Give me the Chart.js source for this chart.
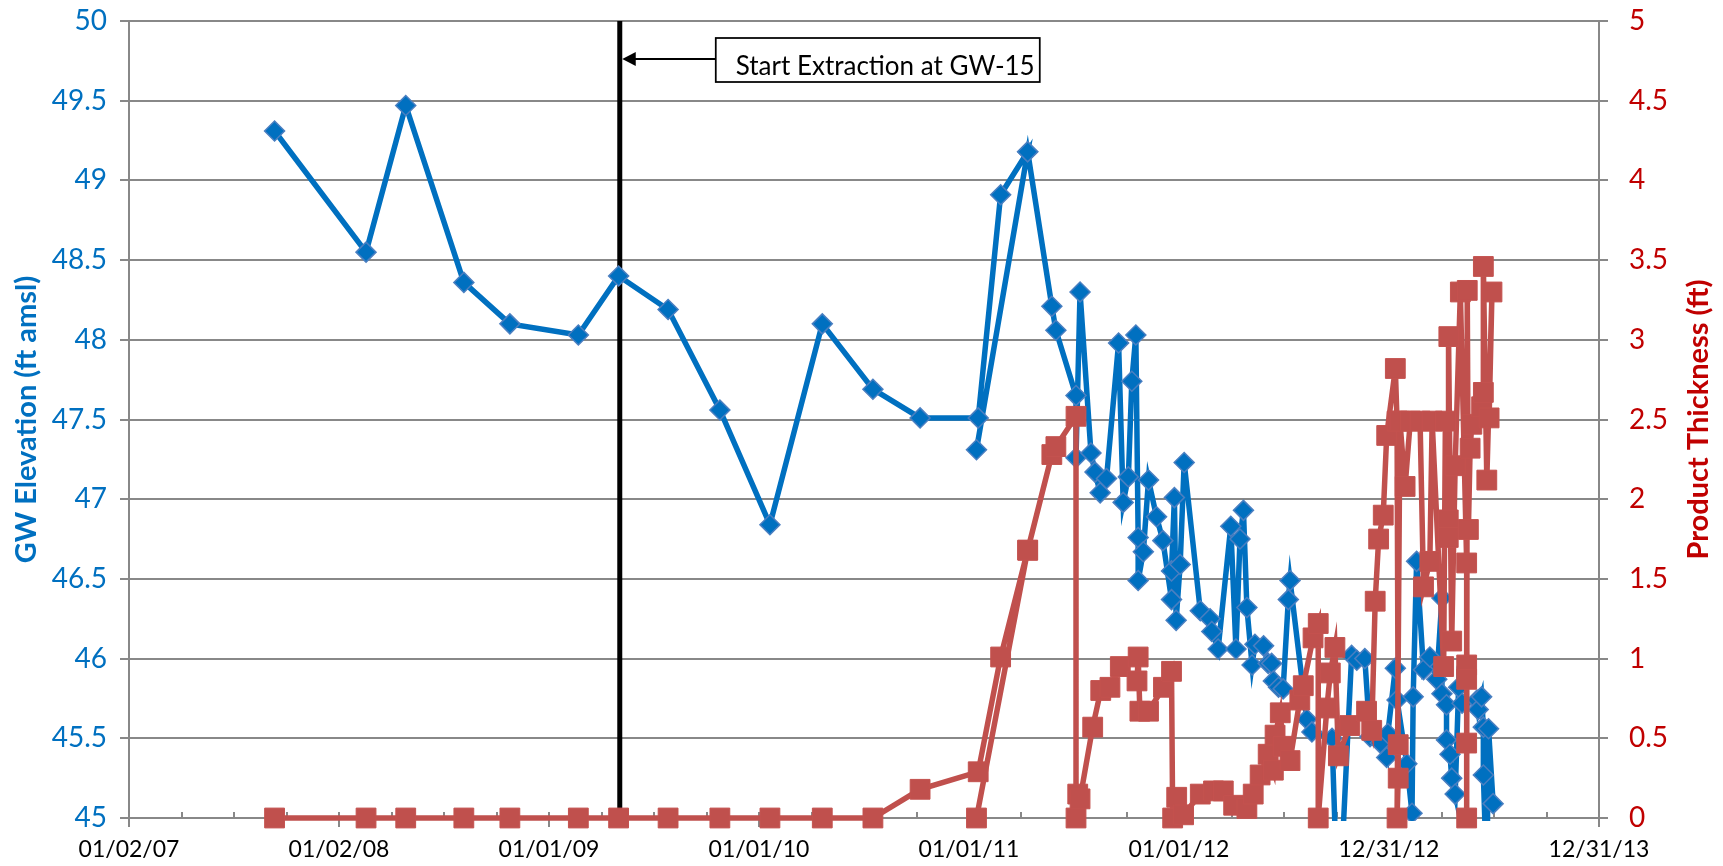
<!DOCTYPE html>
<html>
<head>
<meta charset="utf-8">
<script src="https://cdn.jsdelivr.net/npm/chart.js@4.4.1/dist/chart.umd.min.js"></script>
<style>
  html, body { margin: 0; padding: 0; background: #ffffff; }
  #wrap { width: 1723px; height: 866px; position: relative; }
</style>
</head>
<body>
<div id="wrap"><canvas id="c" width="1723" height="866"></canvas></div>
<script>
// ---- Data (Excel serial dates) ----
const tickDates = [39084, 39449, 39814, 40179, 40544, 40909, 41274, 41639];
const tickLabels = ['01/02/07', '01/02/08', '01/01/09', '01/01/10', '01/01/11', '01/01/12', '12/31/12', '12/31/13'];
const leftTicks = [45, 45.5, 46, 46.5, 47, 47.5, 48, 48.5, 49, 49.5, 50];
const rightTicks = [0, 0.5, 1, 1.5, 2, 2.5, 3, 3.5, 4, 4.5, 5];

const blueDates = [39337,39496,39565,39666,39746,39865,39935,40021,40111,40198,40289,40377,40459,40560,40599,40646,40557,40646,40688,40695,40730,40730,40737,40756,40763,40772,40783,40804,40812,40821,40827,40834,40838,40838,40847,40856,40870,40881,40896,40896,40901,40904,40911,40918,40946,40963,40966,40977,40999,41008,41015,41021,41027,41036,41041,41056,41064,41070,41073,41082,41090,41099,41102,41131,41140,41175,41186,41209,41218,41232,41241,41259,41270,41272,41285,41288,41305,41314,41316,41322,41334,41345,41357,41366,41366,41374,41374,41380,41383,41389,41395,41401,41427,41429,41435,41438,41438,41444,41447,41455];
const blueValues = [49.31,48.55,49.47,48.36,48.10,48.03,48.40,48.19,47.56,46.84,48.10,47.69,47.51,47.51,48.91,49.18,47.31,49.18,48.21,48.06,47.65,47.26,48.30,47.29,47.17,47.04,47.13,47.98,46.98,47.14,47.74,48.03,46.76,46.49,46.67,47.12,46.89,46.74,46.37,46.55,47.01,46.24,46.59,47.23,46.30,46.25,46.17,46.06,46.83,46.06,46.75,46.93,46.32,45.96,46.09,46.08,45.97,45.97,45.86,45.82,45.81,46.37,46.49,45.62,45.54,45.50,44.30,46.02,45.99,46.00,45.51,45.47,45.38,45.53,45.94,45.74,45.34,45.03,45.76,46.61,45.93,46.01,45.87,46.38,45.78,45.71,45.49,45.40,45.25,45.15,45.82,45.72,45.74,45.68,45.76,45.57,45.27,44.60,45.56,45.09];

const redDates = [39337,39496,39565,39666,39746,39865,39935,40021,40111,40198,40289,40377,40459,40560,40599,40646,40557,40646,40688,40695,40730,40730,40733,40737,40759,40773,40789,40807,40836,40838,40841,40856,40882,40896,40898,40905,40917,40946,40969,40986,41004,41027,41038,41050,41064,41073,41076,41085,41090,41102,41119,41125,41142,41151,41151,41166,41172,41180,41186,41206,41235,41244,41250,41256,41264,41270,41285,41288,41290,41290,41288,41293,41302,41311,41328,41334,41345,41349,41369,41372,41377,41377,41378,41383,41389,41398,41409,41409,41409,41409,41409,41410,41412,41415,41418,41435,41438,41438,41444,41453,41448];
const redValues = [0,0,0,0,0,0,0,0,0,0,0,0,0.18,0.29,1.01,1.68,0,1.68,2.28,2.33,2.52,0,0.15,0.12,0.57,0.80,0.82,0.95,0.86,1.01,0.67,0.67,0.82,0.92,0,0.13,0.02,0.15,0.17,0.17,0.08,0.06,0.15,0.27,0.40,0.30,0.52,0.66,0.45,0.36,0.74,0.83,1.13,1.22,0,0.69,0.91,1.07,0.39,0.58,0.67,0.55,1.36,1.75,1.90,2.40,2.82,2.49,0.46,0.25,0,2.49,2.08,2.49,2.49,1.45,1.61,2.49,0.95,2.49,1.87,1.76,3.02,1.11,2.21,3.30,1.60,0.96,0.87,0.47,0,3.31,1.81,2.32,2.47,2.58,2.67,3.46,2.12,3.30,2.51];

const extractionDate = 39937;
const annotationText = 'Start Extraction at GW-15';
const leftTitle = 'GW Elevation (ft amsl)';
const rightTitle = 'Product Thickness (ft)';

// ---- Styles ----
const BLUE = '#0070C0';
const RED = '#C0504D';
const DARKRED = '#C00000';
const GRID = '#888888';
const FONT = 'Lato, "Open Sans", "DejaVu Sans", sans-serif';

function fixBox(size, isHorizontal) {
  return s => {
    if (isHorizontal) s.height = size; else s.width = size;
    s.paddingTop = 0; s.paddingBottom = 0; s.paddingLeft = 0; s.paddingRight = 0;
  };
}

const decorations = {
  id: 'decorations',
  beforeDatasetsDraw(chart) {
    const { ctx, chartArea: a, scales: { x } } = chart;
    ctx.save();
    ctx.strokeStyle = GRID;
    ctx.lineWidth = 2;
    ctx.beginPath();
    for (let i = 0; i < tickDates.length; i++) {
      const px = Math.round(x.getPixelForValue(tickDates[i]));
      ctx.moveTo(px, a.bottom - 6); ctx.lineTo(px, a.bottom);
      if (i < tickDates.length - 1) {
        for (let k = 1; k < 4; k++) {
          const v = tickDates[i] + (tickDates[i + 1] - tickDates[i]) * k / 4;
          const mp = Math.round(x.getPixelForValue(v));
          ctx.moveTo(mp, a.bottom - 6); ctx.lineTo(mp, a.bottom);
        }
      }
    }
    ctx.stroke();
    // extraction start line
    const lx = x.getPixelForValue(extractionDate);
    ctx.strokeStyle = '#000000';
    ctx.lineWidth = 5;
    ctx.beginPath();
    ctx.moveTo(lx, a.top); ctx.lineTo(lx, a.bottom);
    ctx.stroke();
    ctx.restore();
  },
  afterDatasetsDraw(chart) {
    const { ctx, chartArea: a, scales: { x } } = chart;
    const lx = x.getPixelForValue(extractionDate);
    const boxL = lx + 96, boxT = a.top + 17, boxW = 324, boxH = 44;
    const ay = a.top + 38;
    ctx.save();
    ctx.fillStyle = '#ffffff';
    ctx.fillRect(boxL, boxT, boxW, boxH);
    ctx.strokeStyle = '#000000';
    ctx.lineWidth = 1.75;
    ctx.strokeRect(boxL, boxT, boxW, boxH);
    // arrow
    ctx.lineWidth = 2;
    ctx.beginPath();
    ctx.moveTo(boxL, ay); ctx.lineTo(lx + 14, ay);
    ctx.stroke();
    ctx.fillStyle = '#000000';
    ctx.beginPath();
    ctx.moveTo(lx + 2.5, ay);
    ctx.lineTo(lx + 16, ay - 7);
    ctx.lineTo(lx + 16, ay + 7);
    ctx.closePath();
    ctx.fill();
    // text
    ctx.font = '26px ' + FONT;
    ctx.textBaseline = 'alphabetic';
    ctx.textAlign = 'left';
    ctx.fillText(annotationText, boxL + 20, boxT + 37);
    ctx.restore();

    // axis titles (both read bottom-to-top)
    const cy = (a.top + a.bottom) / 2;
    ctx.save();
    ctx.font = 'bold 29px ' + FONT;
    ctx.textAlign = 'center';
    ctx.textBaseline = 'middle';
    ctx.translate(27, cy);
    ctx.rotate(-Math.PI / 2);
    ctx.fillStyle = BLUE;
    ctx.fillText(leftTitle, 0, 0);
    ctx.restore();
    ctx.save();
    ctx.font = 'bold 29px ' + FONT;
    ctx.textAlign = 'center';
    ctx.textBaseline = 'middle';
    ctx.translate(a.right + 100, cy);
    ctx.rotate(-Math.PI / 2);
    ctx.fillStyle = DARKRED;
    ctx.fillText(rightTitle, 0, 0);
    ctx.restore();
  }
};

const ctx = document.getElementById('c').getContext('2d');
new Chart(ctx, {
  type: 'line',
  data: {
    datasets: [
      {
        label: rightTitle,
        yAxisID: 'y2',
        data: redDates.map((d, i) => ({ x: d, y: redValues[i] })),
        borderColor: RED,
        backgroundColor: RED,
        borderWidth: 5.5,
        pointStyle: 'rect',
        pointRadius: 14,
        pointBackgroundColor: RED,
        pointBorderColor: '#C4524F',
        pointBorderWidth: 1,
        tension: 0,
        clip: false
      },
      {
        label: leftTitle,
        yAxisID: 'y',
        data: blueDates.map((d, i) => ({ x: d, y: blueValues[i] })),
        borderColor: BLUE,
        backgroundColor: BLUE,
        borderWidth: 5.5,
        pointStyle: 'rectRot',
        pointRadius: 10,
        pointBackgroundColor: BLUE,
        pointBorderColor: '#4A7FC1',
        pointBorderWidth: 1.5,
        tension: 0,
        clip: { left: false, top: false, right: false, bottom: 3 }
      }
    ]
  },
  options: {
    responsive: false,
    animation: false,
    devicePixelRatio: 1,
    layout: { autoPadding: false, padding: { top: 21, left: 0, right: 0, bottom: 0 } },
    plugins: { legend: { display: false }, tooltip: { enabled: false } },
    scales: {
      x: {
        type: 'linear',
        position: 'bottom',
        min: tickDates[0],
        max: tickDates[tickDates.length - 1],
        afterBuildTicks: s => { s.ticks = tickDates.map(v => ({ value: v })); },
        afterFit: fixBox(48, true),
        ticks: {
          autoSkip: false, maxRotation: 0, minRotation: 0,
          color: '#000000',
          font: { family: FONT, size: 23 },
          padding: 9,
          callback: (v, i) => tickLabels[i]
        },
        grid: { display: true, drawOnChartArea: false, drawTicks: true, tickLength: 9, color: GRID, lineWidth: 2 },
        border: { display: true, color: GRID, width: 2 }
      },
      y: {
        position: 'left',
        min: 45, max: 50,
        afterBuildTicks: s => { s.ticks = leftTicks.map(v => ({ value: v })); },
        afterFit: fixBox(129, false),
        ticks: { color: BLUE, font: { family: FONT, size: 28 }, padding: 13, callback: v => String(v) },
        grid: { color: GRID, lineWidth: 2, tickLength: 9, drawTicks: true },
        border: { display: true, color: GRID, width: 2 },
        title: { display: false }
      },
      y2: {
        position: 'right',
        min: 0, max: 5,
        afterBuildTicks: s => { s.ticks = rightTicks.map(v => ({ value: v })); },
        afterFit: fixBox(124, false),
        ticks: { color: DARKRED, font: { family: FONT, size: 28 }, padding: 21, callback: v => String(v) },
        grid: { drawOnChartArea: false, color: GRID, lineWidth: 2, tickLength: 9, drawTicks: true },
        border: { display: true, color: GRID, width: 2 },
        title: { display: false }
      }
    }
  },
  plugins: [decorations]
});
</script>
</body>
</html>
